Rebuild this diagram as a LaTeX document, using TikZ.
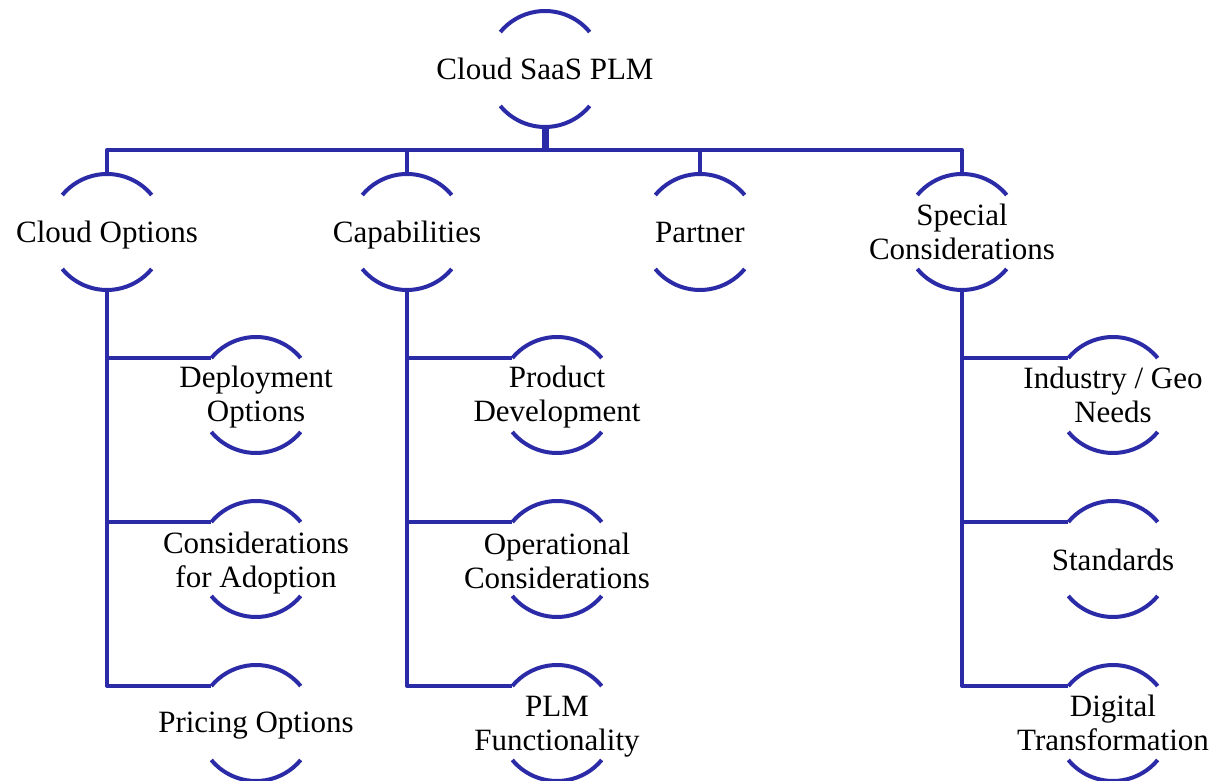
\documentclass[tikz,border=0pt]{standalone}
\usepackage{fontspec}
\setmainfont{Liberation Serif}
\definecolor{treeblue}{RGB}{43,43,168}
\tikzset{
  label text/.style={font=\fontsize{31}{34}\selectfont, align=center, inner sep=0pt},
  arcline/.style={draw=treeblue, line width=4pt},
  link/.style={draw=treeblue, line width=4pt, line join=round},
  stem/.style={draw=treeblue, line width=7pt},
}
% A text node framed by two circular arcs (radius 58), with named points
% at the top (-t), bottom (-b) and the left end of the upper arc (-tl).
% The optional argument nudges the text vertically.
\newcommand{\arcnode}[4][0]{%
  \coordinate (#2-c) at (#3);
  \node[label text, yshift=#1pt] (#2) at (#2-c) {#4};
  \draw[arcline] (#2-c) ++(39.6:58) arc[start angle=39.6, end angle=140.4, radius=58];
  \draw[arcline] (#2-c) ++(219.6:58) arc[start angle=219.6, end angle=320.4, radius=58];
  \path (#2-c) ++(0,58) coordinate (#2-t);
  \path (#2-c) ++(0,-58) coordinate (#2-b);
  \path (#2-c) ++(140.4:58) coordinate (#2-tl);
}
\begin{document}
\begin{tikzpicture}[x=1pt,y=1pt]
\useasboundingbox (0,0) rectangle (1215,781);

% root
\arcnode{root}{545,712}{Cloud SaaS PLM}

% first level
\arcnode[-3]{cloud}{107,549}{Cloud Options}
\arcnode[-3]{cap}{407,549}{Capabilities}
\arcnode[-1]{partner}{700,549}{Partner}
\arcnode{special}{962,549}{Special\\Considerations}

% second level
\arcnode[-2]{deploy}{256,386}{Deployment\\Options}
\arcnode[-4]{adopt}{256,222}{Considerations\\for Adoption}
\arcnode[-3]{pricing}{256,58}{Pricing Options}

\arcnode[-2.5]{proddev}{557,386}{Product\\Development}
\arcnode[-2]{opcons}{557,222}{Operational\\Considerations}
\arcnode[-4]{plmfunc}{557,58}{PLM\\Functionality}

\arcnode{geo}{1113,386}{Industry / Geo\\Needs}
\arcnode[-1]{standards}{1113,222}{Standards}
\arcnode{digital}{1113,58}{Digital\\Transformation}

% bus below the root
\coordinate (bus) at (545,631);
\draw[stem] (root-b) -- (bus);
\draw[link] (cloud-t) |- (bus);
\draw[link] (cap-t) |- (bus);
\draw[link] (partner-t) |- (bus);
\draw[link] (special-t) |- (bus);

% branches to the second level
\foreach \p/\c in {cloud/deploy, cloud/adopt, cloud/pricing,
                   cap/proddev, cap/opcons, cap/plmfunc,
                   special/geo, special/standards, special/digital}
  \draw[link] (\p-b) |- (\c-tl);
\end{tikzpicture}
\end{document}
